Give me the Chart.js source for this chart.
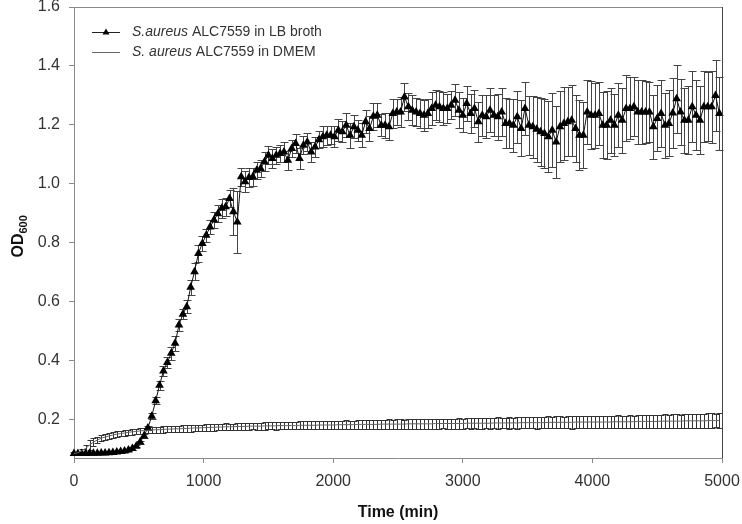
<!DOCTYPE html>
<html>
<head>
<meta charset="utf-8">
<script src="https://cdn.jsdelivr.net/npm/chart.js@4/dist/chart.umd.min.js"></script>
<style>
	html, body { margin: 0; padding: 0; background: #fff; }
	canvas { display: block; }
</style>
</head>
<body>
<canvas id="growth-chart" width="742" height="524"></canvas>
<script>
// sample times (min), one reading every 30 min
const times = [
	0, 30, 60, 90, 120, 150, 180, 210, 240, 270, 300, 330, 360, 390, 420, 450, 480, 510, 540, 570,
	600, 630, 660, 690, 720, 750, 780, 810, 840, 870, 900, 930, 960, 990, 1020, 1050, 1080, 1110, 1140, 1170,
	1200, 1230, 1260, 1290, 1320, 1350, 1380, 1410, 1440, 1470, 1500, 1530, 1560, 1590, 1620, 1650, 1680, 1710, 1740, 1770,
	1800, 1830, 1860, 1890, 1920, 1950, 1980, 2010, 2040, 2070, 2100, 2130, 2160, 2190, 2220, 2250, 2280, 2310, 2340, 2370,
	2400, 2430, 2460, 2490, 2520, 2550, 2580, 2610, 2640, 2670, 2700, 2730, 2760, 2790, 2820, 2850, 2880, 2910, 2940, 2970,
	3000, 3030, 3060, 3090, 3120, 3150, 3180, 3210, 3240, 3270, 3300, 3330, 3360, 3390, 3420, 3450, 3480, 3510, 3540, 3570,
	3600, 3630, 3660, 3690, 3720, 3750, 3780, 3810, 3840, 3870, 3900, 3930, 3960, 3990, 4020, 4050, 4080, 4110, 4140, 4170,
	4200, 4230, 4260, 4290, 4320, 4350, 4380, 4410, 4440, 4470, 4500, 4530, 4560, 4590, 4620, 4650, 4680, 4710, 4740, 4770,
	4800, 4830, 4860, 4890, 4920, 4950, 4980
];

// S.aureus in LB broth
const lbOD = [
	0.085, 0.085, 0.085, 0.085, 0.086, 0.086, 0.086, 0.087, 0.087, 0.088, 0.089, 0.090, 0.092, 0.094, 0.097, 0.102, 0.110,
	0.124, 0.145, 0.172, 0.212,
	0.264, 0.317, 0.365, 0.394, 0.425, 0.459, 0.521, 0.558, 0.583, 0.649, 0.702, 0.764, 0.798, 0.826,
	0.854, 0.877, 0.899, 0.917, 0.922, 0.950, 0.905, 0.871, 1.024, 1.007, 1.022, 1.024, 1.046, 1.052, 1.075,
	1.097, 1.086, 1.097, 1.103, 1.108, 1.080, 1.120, 1.137, 1.086, 1.131, 1.142, 1.108, 1.125, 1.150, 1.160, 1.165, 1.165,
	1.160, 1.182, 1.177, 1.199, 1.165, 1.194, 1.182, 1.165, 1.211, 1.188, 1.229, 1.233, 1.199, 1.199, 1.194, 1.239, 1.244,
	1.244, 1.295, 1.262, 1.250, 1.244, 1.239, 1.233, 1.239, 1.256, 1.267, 1.262, 1.256, 1.256, 1.267, 1.284, 1.250, 1.233,
	1.273, 1.239, 1.256, 1.211, 1.233, 1.228, 1.250, 1.233, 1.228, 1.244, 1.205, 1.205, 1.199, 1.228, 1.188, 1.256,
	1.199, 1.194, 1.185, 1.177, 1.171, 1.160, 1.182, 1.142, 1.194, 1.205, 1.211, 1.216, 1.188, 1.165, 1.165, 1.244, 1.233,
	1.233, 1.239, 1.199, 1.199, 1.216, 1.199, 1.233, 1.216, 1.256, 1.256, 1.262, 1.244, 1.244, 1.244, 1.244, 1.194, 1.222,
	1.239, 1.199, 1.205, 1.240, 1.289, 1.244, 1.216, 1.216, 1.262, 1.233, 1.216, 1.262, 1.262, 1.262, 1.300, 1.239
];
const lbErr = [
	0.004, 0.004, 0.004, 0.004, 0.004, 0.004, 0.004, 0.004, 0.004, 0.004, 0.004, 0.004, 0.004, 0.004, 0.004, 0.004, 0.004,
	0.005, 0.006, 0.008, 0.010,
	0.012, 0.015, 0.018, 0.020, 0.022, 0.025, 0.020, 0.018, 0.022, 0.025, 0.028, 0.030, 0.025, 0.022,
	0.025, 0.028, 0.030, 0.032, 0.030, 0.028, 0.080, 0.105, 0.030, 0.035, 0.032, 0.030, 0.028, 0.030, 0.032,
	0.030, 0.032, 0.028, 0.030, 0.035, 0.032, 0.030, 0.033, 0.035, 0.030, 0.032, 0.035, 0.033, 0.030, 0.035, 0.032, 0.030,
	0.035, 0.038, 0.035, 0.040, 0.042, 0.038, 0.036, 0.040, 0.038, 0.042, 0.045, 0.040, 0.038, 0.042, 0.045, 0.048, 0.045,
	0.050, 0.048, 0.045, 0.050, 0.048, 0.050, 0.052, 0.048, 0.055, 0.050, 0.052, 0.055, 0.050, 0.048, 0.055, 0.060, 0.058,
	0.060, 0.065, 0.062, 0.068, 0.070, 0.072, 0.075, 0.070, 0.078, 0.080, 0.085, 0.082, 0.090, 0.088, 0.095, 0.090,
	0.100, 0.105, 0.110, 0.115, 0.118, 0.120, 0.125, 0.122, 0.120, 0.125, 0.118, 0.120, 0.115, 0.118, 0.112, 0.110, 0.115,
	0.110, 0.108, 0.112, 0.115, 0.110, 0.105, 0.108, 0.110, 0.112, 0.105, 0.100, 0.108, 0.110, 0.105, 0.102, 0.108, 0.112,
	0.115, 0.110, 0.112, 0.118, 0.115, 0.112, 0.110, 0.115, 0.120, 0.118, 0.115, 0.120, 0.118, 0.122, 0.120, 0.125
];

// S. aureus in DMEM
const dmemOD = [
	0.085, 0.088, 0.094, 0.103, 0.114, 0.124, 0.131, 0.137, 0.141, 0.145, 0.148, 0.151, 0.153, 0.155, 0.157, 0.159, 0.160,
	0.162, 0.163, 0.164, 0.165,
	0.166, 0.166, 0.167, 0.168, 0.168, 0.169, 0.169, 0.170, 0.170, 0.171, 0.172, 0.172, 0.173, 0.173, 0.174, 0.174, 0.175,
	0.175, 0.176, 0.176,
	0.176, 0.177, 0.177, 0.177, 0.178, 0.178, 0.178, 0.178, 0.179, 0.179, 0.179, 0.179, 0.180, 0.180, 0.180, 0.180, 0.180,
	0.181, 0.181, 0.181, 0.181, 0.181, 0.182, 0.182, 0.182, 0.182, 0.182,
	0.183, 0.183, 0.183, 0.183, 0.183, 0.184, 0.184, 0.184, 0.184, 0.184, 0.184, 0.185, 0.185, 0.185, 0.185, 0.185, 0.185,
	0.185, 0.186, 0.186, 0.186, 0.186, 0.186, 0.186, 0.186, 0.187, 0.187, 0.187, 0.187, 0.187, 0.187, 0.187, 0.187,
	0.188, 0.188, 0.188, 0.188, 0.188, 0.188, 0.188, 0.189, 0.189, 0.189, 0.189, 0.189, 0.189, 0.189, 0.190, 0.190, 0.190,
	0.190, 0.190, 0.190, 0.190, 0.191, 0.191, 0.191, 0.191, 0.191, 0.191, 0.191, 0.192, 0.192, 0.192, 0.192, 0.192, 0.192,
	0.192, 0.192, 0.192, 0.192, 0.193, 0.193, 0.193, 0.193, 0.193, 0.193, 0.194, 0.194, 0.194, 0.194, 0.194, 0.194, 0.195,
	0.195, 0.195, 0.195, 0.195, 0.195, 0.196, 0.196, 0.196, 0.196, 0.196, 0.196, 0.197, 0.197, 0.197, 0.197
];
const dmemErr = [
	0.003, 0.004, 0.007, 0.012, 0.017, 0.014, 0.011, 0.010, 0.010, 0.009, 0.009, 0.009, 0.009, 0.009, 0.009, 0.010, 0.010,
	0.010, 0.010, 0.010, 0.010,
	0.010, 0.010, 0.011, 0.010, 0.011, 0.011, 0.010, 0.011, 0.011, 0.012, 0.011, 0.011, 0.010, 0.011, 0.011, 0.012, 0.011,
	0.011, 0.012, 0.011,
	0.011, 0.012, 0.011, 0.012, 0.012, 0.011, 0.012, 0.012, 0.013, 0.012, 0.012, 0.013, 0.012, 0.013, 0.013, 0.012, 0.013,
	0.013, 0.014, 0.013, 0.013, 0.014, 0.013, 0.014, 0.014, 0.013, 0.014,
	0.014, 0.014, 0.015, 0.014, 0.014, 0.015, 0.015, 0.014, 0.015, 0.015, 0.016, 0.015, 0.015, 0.016, 0.015, 0.016, 0.016,
	0.015, 0.016, 0.016, 0.017, 0.016, 0.016, 0.017, 0.016, 0.017, 0.017, 0.016, 0.017, 0.017, 0.017, 0.018, 0.017,
	0.017, 0.018, 0.017, 0.018, 0.018, 0.017, 0.018, 0.018, 0.019, 0.018, 0.018, 0.019, 0.018, 0.019, 0.019, 0.018, 0.019,
	0.019, 0.020, 0.019, 0.019, 0.020, 0.019, 0.020, 0.020, 0.019, 0.020, 0.021, 0.020, 0.020, 0.021, 0.020, 0.021, 0.021,
	0.020, 0.021, 0.021, 0.020, 0.021, 0.022, 0.021, 0.021, 0.022, 0.021, 0.022, 0.022, 0.021, 0.022, 0.023, 0.022, 0.022,
	0.023, 0.022, 0.023, 0.023, 0.022, 0.023, 0.024, 0.023, 0.023, 0.024, 0.023, 0.024, 0.024, 0.023, 0.024
];

const xTicks = [0, 1000, 2000, 3000, 4000, 5000];
const yTicks = [0.2, 0.4, 0.6, 0.8, 1.0, 1.2, 1.4, 1.6];
const seriesNames = ["ALC7559 in LB broth", "ALC7559 in DMEM"];
const seriesItalic = ["S.aureus", "S. aureus"];

const fontFamily = "'Liberation Sans', Arial, Helvetica, sans-serif";
Chart.defaults.font.family = fontFamily;

function points(values) {
	return times.map(function (t, i) { return { x: t, y: values[i] }; });
}

// vertical error bars with caps, drawn under the markers
const errorBars = {
	id: "errorBars",
	beforeDatasetsDraw: function (chart) {
		var ctx = chart.ctx,
			xs = chart.scales.x,
			ys = chart.scales.y;
		var sets = [[dmemOD, dmemErr, 3, "#333"], [lbOD, lbErr, 4, "#444"]];
		ctx.save();
		ctx.lineWidth = 1;
		sets.forEach(function (s) {
			ctx.strokeStyle = s[3];
			ctx.beginPath();
			for (let i = 0; i < times.length; i++) {
				var x = Math.round(xs.getPixelForValue(times[i])) + 0.5,
					top = Math.round(ys.getPixelForValue(s[0][i] + s[1][i])) + 0.5,
					bot = Math.round(ys.getPixelForValue(s[0][i] - s[1][i])) + 0.5;
				ctx.moveTo(x, top); ctx.lineTo(x, bot);
				ctx.moveTo(x - s[2], top); ctx.lineTo(x + s[2], top);
				ctx.moveTo(x - s[2], bot); ctx.lineTo(x + s[2], bot);
			}
			ctx.stroke();
		});
		ctx.restore();
	}
};

// frame top/right, y title with subscript, legend with italic species names
const decorations = {
	id: "decorations",
	afterDraw: function (chart) {
		var ctx = chart.ctx,
			a = chart.chartArea;
		ctx.save();
		ctx.lineWidth = 1;
		ctx.strokeStyle = "#8a8a8a";
		ctx.beginPath();
		ctx.moveTo(a.left, a.top + 0.5);
		ctx.lineTo(a.right, a.top + 0.5);
		ctx.stroke();
		ctx.strokeStyle = "#444";
		ctx.beginPath();
		ctx.moveTo(a.right + 0.5, a.top);
		ctx.lineTo(a.right + 0.5, a.bottom);
		ctx.stroke();

		// OD600
		ctx.save();
		ctx.translate(23, (a.top + a.bottom) / 2 + 25);
		ctx.rotate(-Math.PI / 2);
		ctx.fillStyle = "#111";
		ctx.textBaseline = "alphabetic";
		ctx.font = "bold 16px " + fontFamily;
		ctx.fillText("OD", 0, 0);
		var w = ctx.measureText("OD").width;
		ctx.font = "bold 11px " + fontFamily;
		ctx.fillText("600", w, 4);
		ctx.restore();

		// legend
		var rows = [32, 52];
		ctx.textBaseline = "middle";
		rows.forEach(function (y, i) {
			ctx.strokeStyle = i == 0 ? "#222" : "#666";
			ctx.beginPath();
			ctx.moveTo(92, y + 0.5);
			ctx.lineTo(120, y + 0.5);
			ctx.stroke();
			if (i == 0) {
				ctx.fillStyle = "#000";
				ctx.beginPath();
				ctx.moveTo(106, y - 3.5);
				ctx.lineTo(109.5, y + 2.5);
				ctx.lineTo(102.5, y + 2.5);
				ctx.closePath();
				ctx.fill();
			}
			ctx.fillStyle = "#333";
			ctx.font = "italic 14px " + fontFamily;
			ctx.fillText(seriesItalic[i], 132, y);
			var iw = ctx.measureText(seriesItalic[i]).width;
			ctx.font = "14px " + fontFamily;
			ctx.fillText(" " + seriesNames[i], 132 + iw, y);
		});
		ctx.restore();
	}
};

const ctx = document.querySelector("#growth-chart").getContext("2d");
const growthChart = new Chart(ctx, {
	type: "line",
	data: {
		datasets: [
			{
				label: seriesItalic[1] + " " + seriesNames[1],
				data: points(dmemOD),
				borderColor: "#666",
				borderWidth: 1,
				pointRadius: 0,
				tension: 0,
				clip: false
			}, {
				label: seriesItalic[0] + " " + seriesNames[0],
				data: points(lbOD),
				borderColor: "#111",
				borderWidth: 1,
				pointStyle: "triangle",
				pointRadius: 5,
				pointBackgroundColor: "#000",
				pointBorderColor: "#000",
				pointBorderWidth: 0,
				tension: 0,
				clip: false
			}
		]
	},
	options: {
		responsive: false,
		animation: false,
		layout: {
			padding: { top: 7, right: 20, left: 0, bottom: 0 }
		},
		plugins: {
			legend: { display: false },
			tooltip: { enabled: false }
		},
		scales: {
			x: {
				type: "linear",
				min: 0,
				max: 5000,
				afterBuildTicks: function (s) {
					s.ticks = xTicks.map(function (v) { return { value: v }; });
				},
				afterFit: function (s) {
					s.height = 66;
					s.paddingLeft = 0;
					s.paddingRight = 0;
				},
				grid: {
					drawOnChartArea: false,
					drawTicks: true,
					tickLength: 5,
					color: "#8a8a8a"
				},
				border: { display: true, color: "#8a8a8a" },
				ticks: {
					color: "#333",
					font: { size: 16 },
					padding: 9,
					maxRotation: 0,
					callback: function (v) { return String(v); }
				},
				title: {
					display: true,
					text: "Time (min)",
					color: "#111",
					font: { size: 16, weight: "bold" },
					padding: { top: 0, bottom: 2 }
				}
			},
			y: {
				min: 0.07,
				max: 1.6,
				afterBuildTicks: function (s) {
					s.ticks = yTicks.map(function (v) { return { value: v }; });
				},
				afterFit: function (s) {
					s.width = 74;
					s.paddingTop = 0;
					s.paddingBottom = 0;
				},
				grid: {
					drawOnChartArea: false,
					drawTicks: true,
					tickLength: 5,
					color: "#8a8a8a"
				},
				border: { display: true, color: "#8a8a8a" },
				ticks: {
					color: "#333",
					font: { size: 16 },
					padding: 9,
					callback: function (v) { return v.toFixed(1); }
				}
			}
		}
	},
	plugins: [errorBars, decorations]
});
</script>
</body>
</html>
